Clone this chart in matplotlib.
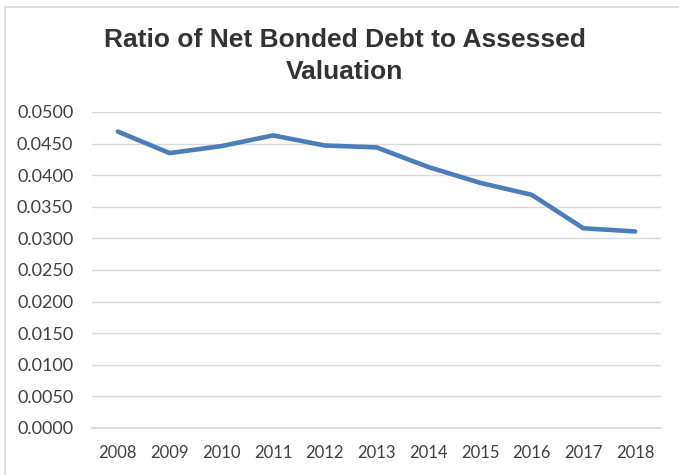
import matplotlib
matplotlib.use("Agg")
import matplotlib.pyplot as plt
from matplotlib.patches import Rectangle
from matplotlib.ticker import FormatStrFormatter

# Ratio of net bonded debt to assessed valuation, by fiscal year
years = ["2008", "2009", "2010", "2011", "2012", "2013",
         "2014", "2015", "2016", "2017", "2018"]
ratio = [0.0469, 0.0435, 0.0446, 0.0463, 0.0447, 0.0444,
         0.0413, 0.0388, 0.0369, 0.0316, 0.0311]

fig = plt.figure(figsize=(6.79, 4.75), dpi=100)

# chart frame (only the left and top edges fall inside the image)
fig.patches.append(Rectangle((5 / 679, -0.1), 1.2, 1.1 - 7 / 475,
                             transform=fig.transFigure, fill=False,
                             edgecolor="#D9D9D9", linewidth=1.2))

ax = fig.add_axes([92 / 679, 47 / 475, 569 / 679, 316 / 475])

x = range(len(years))
ax.plot(x, ratio, color="#4A7EBB", linewidth=3.3, solid_capstyle="round",
        solid_joinstyle="round", zorder=3)

ax.set_xlim(-0.5, len(years) - 0.5)
ax.set_ylim(0, 0.05)
ax.set_yticks([i * 0.005 for i in range(11)])
ax.yaxis.set_major_formatter(FormatStrFormatter("%.4f"))
ax.set_xticks(list(x))
ax.set_xticklabels(years)

ax.grid(axis="y", color="#D9D9D9", linewidth=1.0)
ax.set_axisbelow(True)
for side in ["top", "right", "left"]:
    ax.spines[side].set_visible(False)
ax.spines["bottom"].set_color("#D9D9D9")
ax.spines["bottom"].set_linewidth(1.3)

ax.tick_params(length=0, labelcolor="#404040", labelsize=12)
ax.tick_params(axis="y", labelsize=13, pad=13.5)
ax.tick_params(axis="x", pad=12)
for lbl in ax.get_xticklabels() + ax.get_yticklabels():
    lbl.set_family("Lato")

title_style = dict(ha="center", va="center", fontsize=19, fontweight="bold",
                   family="Liberation Sans", color="#333333")
fig.text(345 / 679, 1 - 40 / 475, "Ratio of Net Bonded Debt to Assessed", **title_style)
fig.text(345 / 679, 1 - 72 / 475, "Valuation", **title_style)

fig.savefig("out.png", dpi=100)
